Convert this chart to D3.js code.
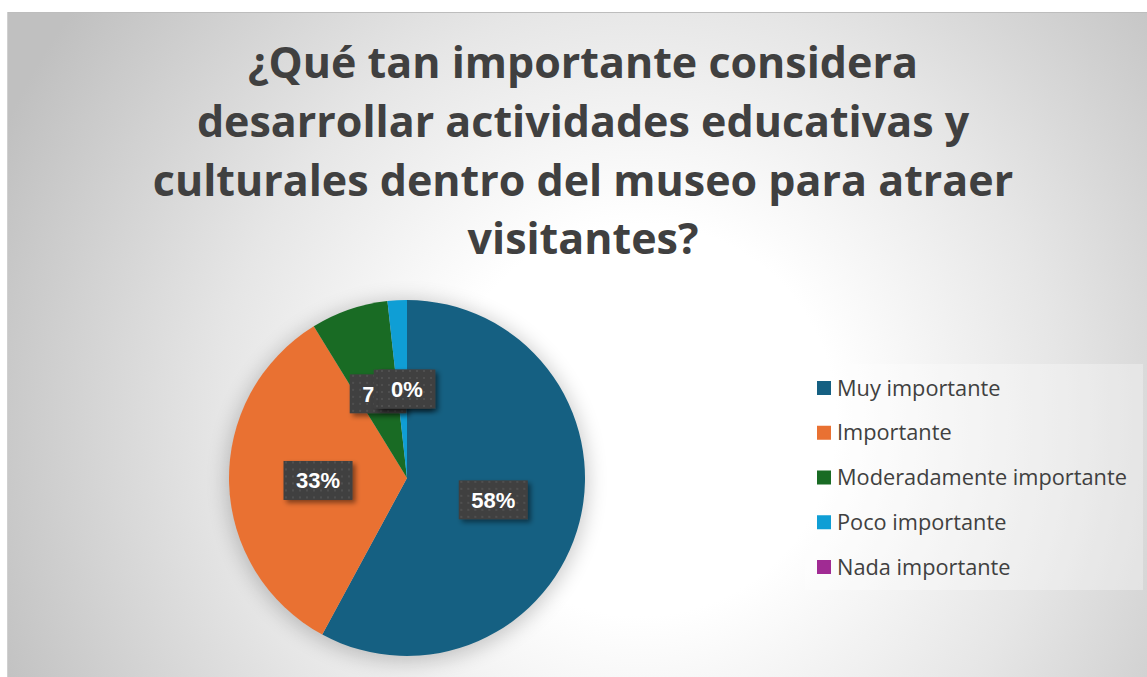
<!DOCTYPE html>
<html>
<head>
<meta charset="utf-8">
<script src="https://cdn.jsdelivr.net/npm/d3@7"></script>
<style>
  html, body { margin: 0; padding: 0; background: #ffffff; }
  svg { display: block; }
</style>
</head>
<body>
<svg id="chart" width="1147" height="677"></svg>
<script>
// ---- Data ----
const titleLines = [
  "¿Qué tan importante considera",
  "desarrollar actividades educativas y",
  "culturales dentro del museo para atraer",
  "visitantes?"
];
const categories = ["Muy importante", "Importante", "Moderadamente importante", "Poco importante", "Nada importante"];
const counts = [33, 19, 4, 1, 0];
const percentLabels = ["58%", "33%", "7%", "2%", "0%"];
const colors = ["#156082", "#E97132", "#196B24", "#0F9ED5", "#A02B93"];

// ---- Layout ----
const W = 1147, H = 677;
const svg = d3.select("#chart");
const defs = svg.append("defs");

// background gradient
const bg = defs.append("radialGradient").attr("id", "bgGrad")
  .attr("gradientUnits", "userSpaceOnUse")
  .attr("cx", 640).attr("cy", 420).attr("r", 700);
bg.append("stop").attr("offset", "0").attr("stop-color", "#ffffff");
bg.append("stop").attr("offset", "0.28").attr("stop-color", "#ffffff");
bg.append("stop").attr("offset", "0.6").attr("stop-color", "#e6e6e6");
bg.append("stop").attr("offset", "1").attr("stop-color", "#c0c0c0");

// pie halo
const halo = defs.append("filter").attr("id", "halo")
  .attr("x", "-30%").attr("y", "-30%").attr("width", "160%").attr("height", "160%");
halo.append("feGaussianBlur").attr("stdDeviation", 10);

// label shadow
const ls = defs.append("filter").attr("id", "lblShadow")
  .attr("x", "-30%").attr("y", "-30%").attr("width", "170%").attr("height", "170%");
ls.append("feDropShadow").attr("dx", 3).attr("dy", 3).attr("stdDeviation", 2.5)
  .attr("flood-color", "#000").attr("flood-opacity", 0.45);

// dot pattern for label boxes
const pat = defs.append("pattern").attr("id", "dots")
  .attr("patternUnits", "userSpaceOnUse").attr("width", 7).attr("height", 7);
pat.append("rect").attr("width", 7).attr("height", 7).attr("fill", "#404040");
pat.append("rect").attr("x", 2).attr("y", 2).attr("width", 2).attr("height", 2).attr("fill", "#505050");

// chart area
svg.append("rect").attr("x", 7).attr("y", 12).attr("width", W - 7).attr("height", H - 12)
  .attr("fill", "url(#bgGrad)");
svg.append("line").attr("x1", 7).attr("x2", W).attr("y1", 12.5).attr("y2", 12.5)
  .attr("stroke", "#bdbdbd").attr("stroke-width", 1);
svg.append("line").attr("x1", 7.5).attr("x2", 7.5).attr("y1", 12).attr("y2", H)
  .attr("stroke", "#d0d0d0").attr("stroke-width", 1);

// ---- Title ----
const titleFont = "'Open Sans', 'Liberation Sans', sans-serif";
const titleG = svg.append("g");
const baselines = [78, 137, 196, 254];
const titleCx = 583;
const tTexts = titleG.selectAll("text").data(titleLines).join("text")
  .attr("x", titleCx).attr("y", (d, i) => baselines[i])
  .attr("text-anchor", "middle")
  .attr("font-family", titleFont).attr("font-weight", 700)
  .attr("font-size", 40).attr("fill", "#404040")
  .text(d => d);
const w0 = tTexts.nodes()[0].getComputedTextLength();
const tSize = 40 * 670 / w0;
tTexts.attr("font-size", tSize);

// ---- Pie ----
const cx = 407, cy = 478, R = 178;
const pie = d3.pie().value(d => d.v).sort(null);
const data = categories.map((c, i) => ({ c, v: counts[i], lbl: percentLabels[i], col: colors[i] }));
const arcs = pie(data);
const arc = d3.arc().innerRadius(0).outerRadius(R);

const pg = svg.append("g").attr("transform", `translate(${cx},${cy})`);
pg.append("circle").attr("r", R + 3).attr("cy", 3).attr("fill", "#000").attr("opacity", 0.2)
  .attr("filter", "url(#halo)");
pg.selectAll("path.slice").data(arcs.filter(d => d.data.v > 0)).join("path")
  .attr("class", "slice")
  .attr("d", arc)
  .attr("fill", d => d.data.col);

// ---- Data labels ----
const lblFont = "'Liberation Sans', Arial, sans-serif";
const lg = pg.append("g");
arcs.forEach(a => {
  const [x, y] = arc.centroid(a);
  const g = lg.append("g").attr("transform", `translate(${x},${y})`);
  const rect = g.append("rect").attr("fill", "url(#dots)").attr("filter", "url(#lblShadow)");
  const t = g.append("text").attr("text-anchor", "middle").attr("dy", "0.36em")
    .attr("font-family", lblFont).attr("font-weight", 700).attr("font-size", 22)
    .attr("fill", "#ffffff").text(a.data.lbl);
  const tw = t.node().getComputedTextLength();
  const bw = tw + 25, bh = 39;
  rect.attr("x", -bw / 2).attr("y", -bh / 2).attr("width", bw).attr("height", bh);
});

// ---- Legend ----
svg.append("rect").attr("x", 805).attr("y", 364).attr("width", 338).attr("height", 226)
  .attr("fill", "#ffffff").attr("opacity", 0.3);
const legFont = "'Open Sans', 'Liberation Sans', sans-serif";
const legY = d3.scalePoint().domain(categories).range([388, 567]);
const leg = svg.append("g");
const items = leg.selectAll("g").data(data).join("g")
  .attr("transform", d => `translate(817,${legY(d.c)})`);
items.append("rect").attr("x", 0).attr("y", -7).attr("width", 14).attr("height", 14)
  .attr("fill", d => d.col);
const legTexts = items.append("text").attr("x", 20).attr("dy", "0.35em")
  .attr("font-family", legFont).attr("font-size", 20).attr("fill", "#404040")
  .text(d => d.c);
const lw = legTexts.nodes()[2].getComputedTextLength();
legTexts.attr("font-size", 20 * 290 / lw);
</script>
</body>
</html>
